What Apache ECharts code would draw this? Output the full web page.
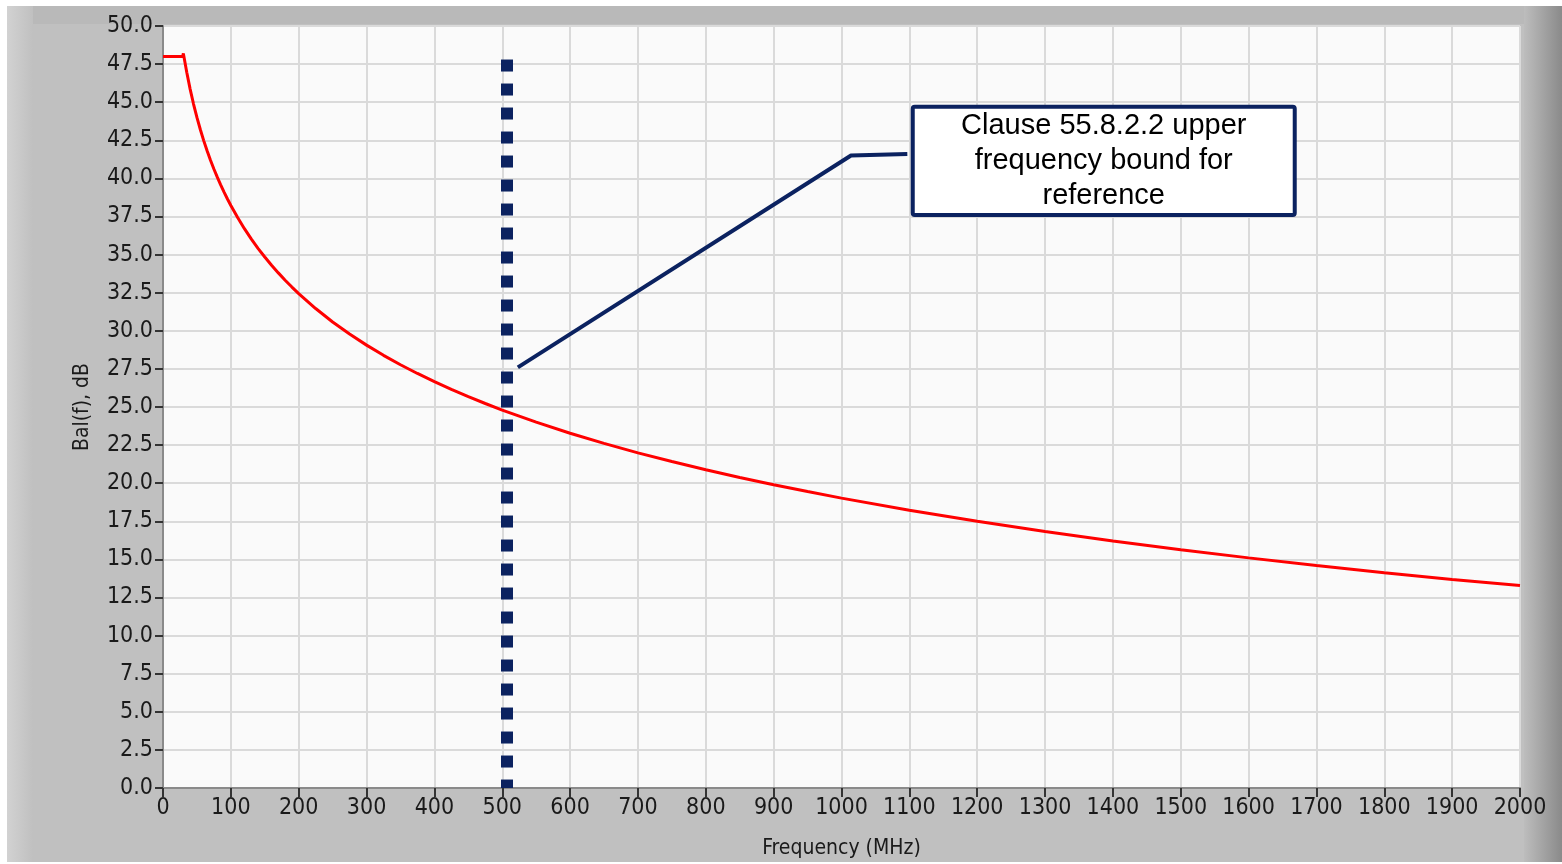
<!DOCTYPE html>
<html><head><meta charset="utf-8">
<script src="https://cdn.jsdelivr.net/npm/echarts@6/dist/echarts.min.js"></script>
<style>html,body{margin:0;padding:0;background:#ffffff;}#c{width:1562px;height:864px;}</style>
</head><body><div id="c"></div>
<script>
// Data
const freqMHz = [0, 29, 30, 35, 40, 45, 50, 55, 60, 65, 70, 75, 80, 85, 90, 95, 100, 110, 120, 130, 140, 150, 160, 170, 180, 190, 200,
  225, 250, 275, 300, 325, 350, 375, 400, 425, 450, 475, 500, 550, 600, 650, 700, 750, 800, 850, 900, 950,
  1000, 1100, 1200, 1300, 1400, 1500, 1600, 1700, 1800, 1900, 2000];
const balanceDb = [48.0, 48.0, 48.2, 46.97, 45.86, 44.88, 44.0, 43.21, 42.48, 41.81, 41.19, 40.62, 40.08, 39.58, 39.10, 38.65, 38.22,
  37.43, 36.70, 36.03, 35.41, 34.84, 34.30, 33.80, 33.32, 32.87, 32.44,
  31.46, 30.58, 29.79, 29.06, 28.39, 27.77, 27.20, 26.66, 26.15, 25.68, 25.23, 24.80, 24.01, 23.28, 22.61, 21.99, 21.42, 20.88, 20.37, 19.90, 19.45,
  19.02, 18.23, 17.50, 16.83, 16.21, 15.64, 15.10, 14.60, 14.12, 13.68, 13.28];
const refBoundFreq = 507;
const refBoundTop = 47.8;
const calloutPath = [[523, 27.6], [1014, 41.5], [1097, 41.6]];
const calloutBox = [[1105, 44.7], [1668, 37.6]];
const calloutText = 'Clause 55.8.2.2 upper\nfrequency bound for\nreference';
const xAxisTitle = 'Frequency (MHz)';
const yAxisTitle = 'Bal(f), dB';

const chart = echarts.init(document.getElementById('c'));
const FONT = 'Liberation Sans Narrow, DejaVu Sans Condensed, DejaVu Sans';
const tickFont = {fontFamily: FONT, fontSize: 23, color: '#1a1a1a'};
const option = {
  animation: false,
  backgroundColor: 'transparent',
  grid: {left: 163, top: 26, right: 42, bottom: 75, show: true, backgroundColor: '#fafafa', borderWidth: 0},
  xAxis: [{
    type: 'value', min: 0, max: 2000, interval: 100, offset: 5,
    axisLine: {show: false},
    axisTick: {show: true, length: 9, lineStyle: {color: '#333', width: 2}},
    axisLabel: Object.assign({margin: 4, formatter: v => String(v)}, tickFont),
    splitLine: {show: true, lineStyle: {color: '#dadada', width: 2}},
    name: xAxisTitle, nameLocation: 'middle', nameGap: 45,
    nameTextStyle: {fontFamily: FONT, fontSize: 21, color: '#1a1a1a'}
  }, {
    type: 'value', min: 0, max: 2000, position: 'top',
    axisLine: {show: true, lineStyle: {color: '#8a8a8a', width: 2}},
    axisTick: {show: false}, axisLabel: {show: false}, splitLine: {show: false}
  }],
  yAxis: [{
    type: 'value', min: 0, max: 50, interval: 2.5, offset: 6,
    axisLine: {show: false},
    axisTick: {show: true, length: 8, lineStyle: {color: '#333', width: 2}},
    axisLabel: Object.assign({margin: 4, formatter: v => v.toFixed(1)}, tickFont),
    splitLine: {show: true, lineStyle: {color: '#dadada', width: 2}},
    name: yAxisTitle, nameLocation: 'middle', nameGap: 64, nameRotate: 90,
    nameTextStyle: {fontFamily: FONT, fontSize: 21, color: '#1a1a1a'}
  }, {
    type: 'value', min: 0, max: 50, position: 'left',
    axisLine: {show: true, lineStyle: {color: '#8a8a8a', width: 2}},
    axisTick: {show: false}, axisLabel: {show: false}, splitLine: {show: false}
  }],
  series: [{
    type: 'line', data: freqMHz.map((f, i) => [f, balanceDb[i]]),
    showSymbol: false, smooth: false,
    lineStyle: {color: '#ff0000', width: 3}, z: 3
  }, {
    type: 'line', data: [[refBoundFreq, refBoundTop], [refBoundFreq, 0]],
    showSymbol: false,
    lineStyle: {color: '#0b2260', width: 12, type: [12, 12], cap: 'butt'}, z: 4
  }, {
    type: 'line', data: calloutPath, showSymbol: false,
    lineStyle: {color: '#0b2260', width: 4}, z: 5
  }]
};
chart.setOption(option);

const p1 = chart.convertToPixel({gridIndex: 0}, calloutBox[0]);
const p2 = chart.convertToPixel({gridIndex: 0}, calloutBox[1]);
chart.setOption({
  graphic: [
    {type: 'rect', z: -10, silent: true, shape: {x: 7, y: 6, width: 1555, height: 856}, style: {fill: '#c0c0c0'}},
    {type: 'rect', z: -9, silent: true, shape: {x: 7, y: 6, width: 1555, height: 18}, style: {fill: '#b9b9b9'}},
    {type: 'rect', z: -9, silent: true, shape: {x: 7, y: 6, width: 26, height: 856},
      style: {fill: new echarts.graphic.LinearGradient(0, 0, 1, 0, [{offset: 0, color: '#d2d2d2'}, {offset: 1, color: '#c0c0c0'}])}},
    {type: 'rect', z: -9, silent: true, shape: {x: 1524, y: 6, width: 38, height: 856},
      style: {fill: new echarts.graphic.LinearGradient(0, 0, 1, 0, [{offset: 0, color: '#bdbdbd'}, {offset: 1, color: '#8a8a8a'}])}},
    {type: 'rect', z: 100, shape: {x: p1[0], y: p1[1], width: p2[0] - p1[0], height: p2[1] - p1[1], r: 2},
      style: {fill: '#ffffff', stroke: '#0b2260', lineWidth: 4}},
    {type: 'text', z: 101, x: (p1[0] + p2[0]) / 2, y: (p1[1] + p2[1]) / 2,
      style: {text: calloutText, align: 'center', verticalAlign: 'middle', fontFamily: 'Liberation Sans, Arial', fontSize: 29, lineHeight: 35, fill: '#000'}}
  ]
});
</script></body></html>
